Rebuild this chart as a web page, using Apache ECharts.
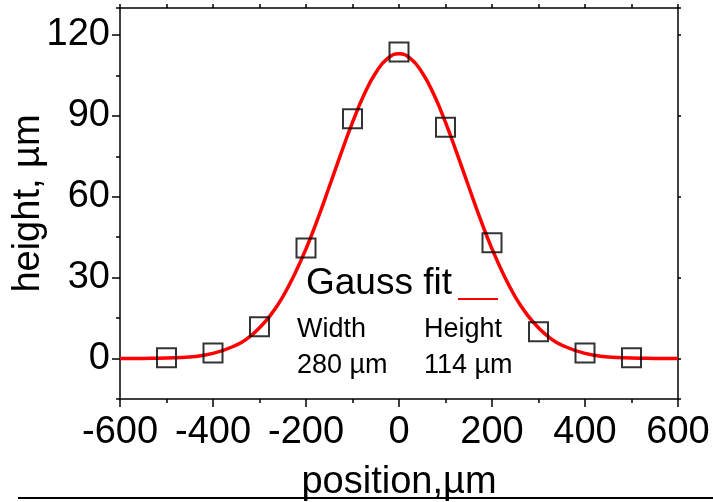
<!DOCTYPE html>
<html>
<head>
<meta charset="utf-8">
<script src="https://cdn.jsdelivr.net/npm/echarts@6/dist/echarts.min.js"></script>
<style>
  html, body { margin: 0; padding: 0; background: #fff; }
  #chart { width: 713px; height: 502px; }
</style>
</head>
<body>
<div id="chart"></div>
<script>
// measured points (position in µm, height in µm)
const posX = [-500, -400, -300, -200, -100, 0, 100, 200, 300, 400, 500];
const heightY = [0.3, 2.1, 11.8, 41, 88.9, 113.7, 85.8, 42.9, 9.9, 2.1, 0.3];

// gauss fit curve
const fitX = [-600, -550, -500, -450, -400, -350, -325, -300, -275, -250, -225, -200, -175,
  -150, -125, -100, -75, -50, -25, 0, 25, 50, 75, 100, 125, 150, 175, 200, 225, 250,
  275, 300, 325, 350, 400, 450, 500, 550, 600];
const fitY = [0, 0.05, 0.2, 0.6, 1.9, 5.0, 7.6, 11.4, 16.4, 22.9, 31.1, 40.7, 51.7,
  63.7, 75.9, 87.6, 97.9, 106, 111.2, 113, 111.2, 106, 97.9, 87.6, 75.9, 63.7, 51.7, 40.7, 31.1, 22.9,
  16.4, 11.4, 7.6, 5.0, 1.9, 0.6, 0.2, 0.05, 0];

const fitInfo = { width: "280 µm", height: "114 µm" };

const FONT = "Liberation Sans, Arial, sans-serif";
const axisBlack = { color: "#000", width: 1.5 };

const chart = echarts.init(document.getElementById("chart"), null, { renderer: "canvas" });

const option = {
  animation: false,
  grid: { left: 120, right: 35, top: 8, bottom: 103, outerBoundsMode: "none", containLabel: false },
  xAxis: [
    {
      type: "value",
      min: -600,
      max: 600,
      interval: 200,
      position: "bottom",
      name: "position,µm",
      nameLocation: "middle",
      nameGap: 65,
      nameMoveOverlap: false,
      nameTextStyle: { fontSize: 38, color: "#000", fontFamily: FONT },
      axisLine: { onZero: false, lineStyle: axisBlack },
      axisTick: { show: true, inside: false, length: 8, lineStyle: axisBlack },
      minorTick: { show: true, splitNumber: 2, length: 4, lineStyle: axisBlack },
      axisLabel: { fontSize: 38, color: "#000", fontFamily: FONT, margin: 15 },
      splitLine: { show: false },
    },
    {
      type: "value",
      min: -600,
      max: 600,
      interval: 100,
      position: "top",
      axisLine: { onZero: false, lineStyle: axisBlack },
      axisTick: { show: true, inside: false, length: 4, lineStyle: axisBlack },
      axisLabel: { show: false },
      splitLine: { show: false },
    },
  ],
  yAxis: [
    {
      type: "value",
      min: -15,
      max: 130,
      splitNumber: 5,
      position: "left",
      name: "height, µm",
      nameLocation: "middle",
      nameGap: 72,
      nameMoveOverlap: false,
      nameTextStyle: { fontSize: 38, color: "#000", fontFamily: FONT },
      axisLine: { show: true, onZero: false, lineStyle: axisBlack },
      axisTick: { show: true, inside: false, length: 8, lineStyle: axisBlack },
      axisLabel: {
        fontSize: 38, color: "#000", fontFamily: FONT, margin: 10,
        showMinLabel: false, showMaxLabel: false,
        formatter: (v) => (v % 30 === 0 ? String(Math.abs(v) < 1e-9 ? 0 : v) : ""),
      },
      splitLine: { show: false },
    },
    {
      // minor ticks every 15
      type: "value",
      min: -15,
      max: 130,
      interval: 15,
      position: "left",
      offset: 0,
      axisLine: { show: false, onZero: false },
      axisTick: { show: true, inside: false, length: 4, lineStyle: axisBlack },
      axisLabel: { show: false },
      splitLine: { show: false },
    },
    {
      type: "value",
      min: -15,
      max: 130,
      splitNumber: 5,
      position: "right",
      axisLine: { show: true, onZero: false, lineStyle: axisBlack },
      axisTick: { show: true, inside: false, length: 3, lineStyle: axisBlack },
      axisLabel: { show: false },
      splitLine: { show: false },
    },
  ],
  series: [
    {
      name: "Gauss fit",
      type: "line",
      xAxisIndex: 0,
      yAxisIndex: 0,
      data: fitX.map((x, i) => [x, fitY[i]]),
      smooth: true,
      showSymbol: false,
      lineStyle: { color: "#ff0000", width: 3.5 },
      z: 2,
    },
    {
      name: "data",
      type: "scatter",
      xAxisIndex: 0,
      yAxisIndex: 0,
      data: posX.map((x, i) => [x, heightY[i]]),
      symbol: "rect",
      symbolSize: 19,
      itemStyle: { color: "rgba(0,0,0,0)", borderColor: "#000", borderWidth: 2 },
      z: 3,
    },
  ],
  graphic: [
    // legend block
    {
      type: "text", left: 306, top: 265,
      style: { text: "Gauss fit", fontSize: 37, fill: "#000", fontFamily: FONT },
    },
    {
      type: "line",
      shape: { x1: 458, y1: 299, x2: 498, y2: 299 },
      style: { stroke: "#ff0000", lineWidth: 2 },
    },
    {
      type: "text", left: 297, top: 316,
      style: { text: "Width", fontSize: 27, fill: "#000", fontFamily: FONT },
    },
    {
      type: "text", left: 424, top: 316,
      style: { text: "Height", fontSize: 27, fill: "#000", fontFamily: FONT },
    },
    {
      type: "text", left: 297, top: 352,
      style: { text: fitInfo.width, fontSize: 27, fill: "#000", fontFamily: FONT },
    },
    {
      type: "text", left: 424, top: 352,
      style: { text: fitInfo.height, fontSize: 27, fill: "#000", fontFamily: FONT },
    },
    // page rule under the figure
    {
      type: "line",
      shape: { x1: 18, y1: 498, x2: 713, y2: 498 },
      style: { stroke: "#000", lineWidth: 2 },
      z: -1,
    },
  ],
};

chart.setOption(option);
</script>
</body>
</html>
